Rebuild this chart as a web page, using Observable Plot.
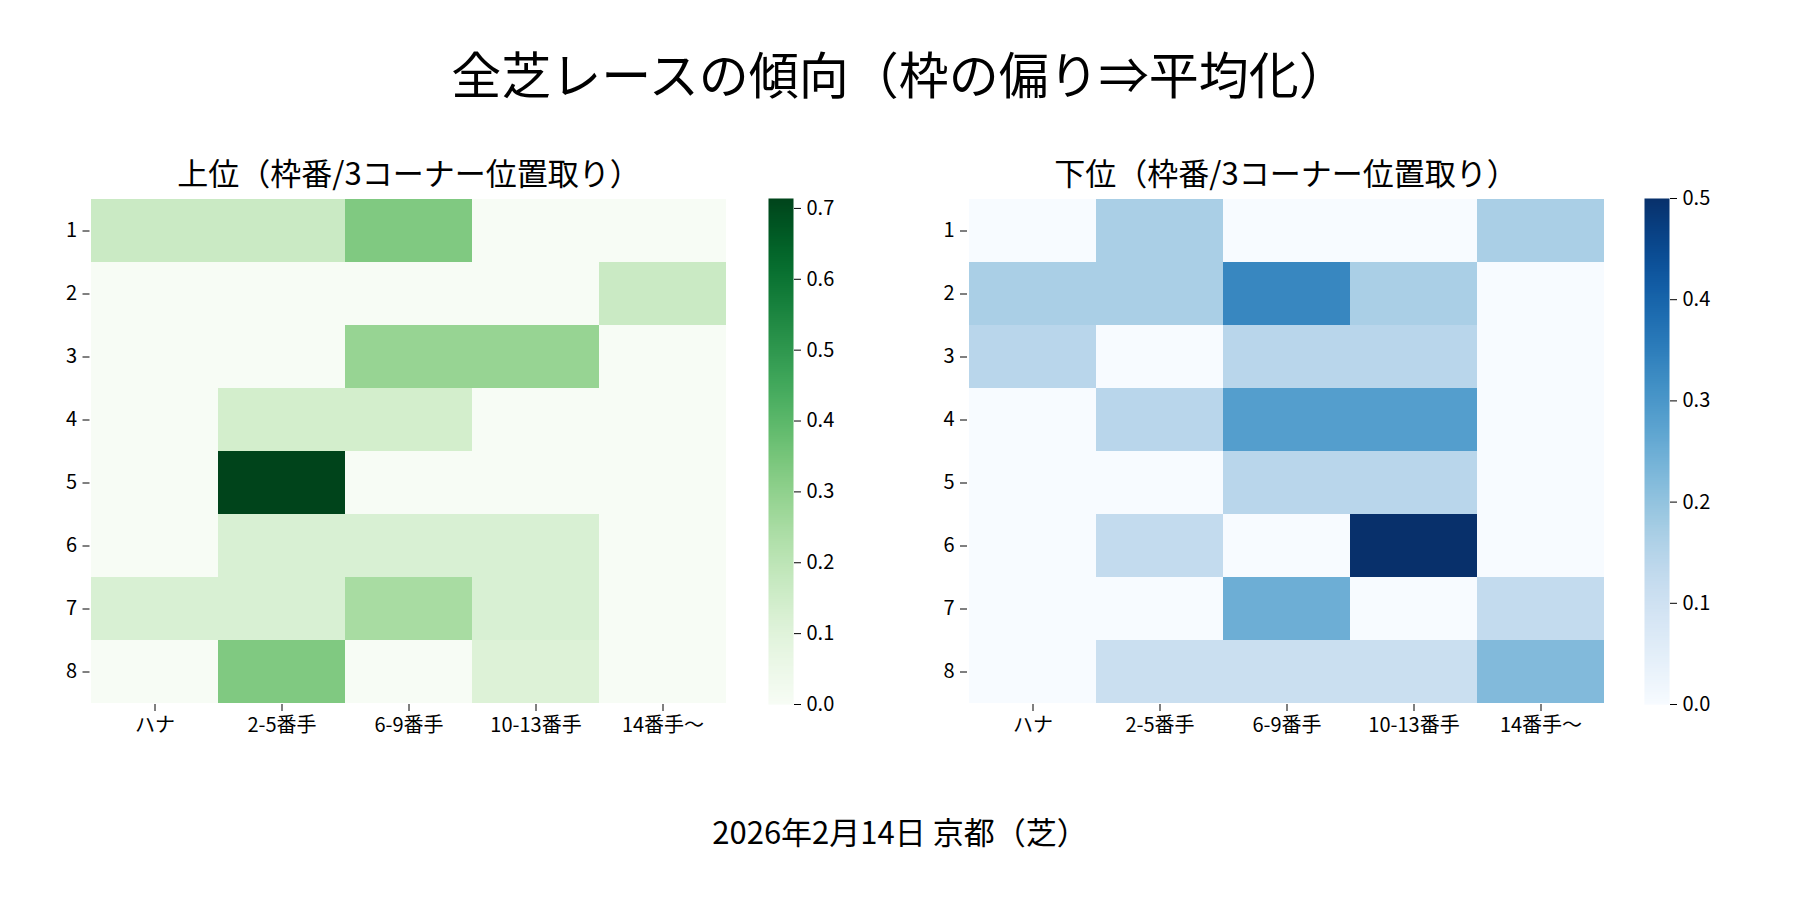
<!DOCTYPE html>
<html>
<head>
<meta charset="utf-8">
<script src="https://cdn.jsdelivr.net/npm/d3@7"></script>
<script src="https://cdn.jsdelivr.net/npm/@observablehq/plot@0.6"></script>
<style>
  html, body { margin: 0; padding: 0; background: #fff; }
  #root { position: relative; width: 1800px; height: 900px; background: #fff; font-family: "Noto Sans CJK JP", sans-serif; color: #000; }
  .txt { position: absolute; white-space: nowrap; text-align: center; transform: translateX(-50%); }
  .panel { position: absolute; }
  svg { overflow: visible; }
</style>
</head>
<body>
<div id="root"></div>
<script>
// ---- data ----
const mainTitle = "全芝レースの傾向（枠の偏り⇒平均化）";
const upperTitle = "上位（枠番/3コーナー位置取り）";
const lowerTitle = "下位（枠番/3コーナー位置取り）";
const caption = "2026年2月14日 京都（芝）";

const rows = ["1", "2", "3", "4", "5", "6", "7", "8"];
const cols = ["ハナ", "2-5番手", "6-9番手", "10-13番手", "14番手〜"];

// 上位 (rows = 枠番 1..8, cols = 3コーナー位置)
const upperValues = [
  [0.167, 0.167, 0.333, 0,     0    ],
  [0,     0,     0,     0,     0.167],
  [0,     0,     0.286, 0.286, 0    ],
  [0,     0.143, 0.143, 0,     0    ],
  [0,     0.714, 0,     0,     0    ],
  [0,     0.125, 0.125, 0.125, 0    ],
  [0.125, 0.125, 0.25,  0.125, 0    ],
  [0,     0.333, 0,     0.111, 0    ]
];

// 下位
const lowerValues = [
  [0,     0.167, 0,     0,     0.167],
  [0.167, 0.167, 0.333, 0.167, 0    ],
  [0.143, 0,     0.143, 0.143, 0    ],
  [0,     0.143, 0.286, 0.286, 0    ],
  [0,     0,     0.143, 0.143, 0    ],
  [0,     0.125, 0,     0.5,   0    ],
  [0,     0,     0.25,  0,     0.125],
  [0,     0.111, 0.111, 0.111, 0.222]
];

const upperTicks = [0, 0.1, 0.2, 0.3, 0.4, 0.5, 0.6, 0.7];
const lowerTicks = [0, 0.1, 0.2, 0.3, 0.4, 0.5];

// ---- build ----
const root = document.getElementById("root");
const font = "Noto Sans CJK JP";

function addText(str, cx, top, size) {
  const d = document.createElement("div");
  d.className = "txt";
  d.textContent = str;
  d.style.left = cx + "px";
  d.style.top = top + "px";
  d.style.fontSize = size + "px";
  d.style.lineHeight = (size + 6) + "px";
  root.appendChild(d);
}

function toCells(values) {
  return rows.flatMap((r, i) => cols.map((c, j) => ({row: r, col: c, value: values[i][j]})));
}

// frame spans y 198..704 in page coordinates
function heatmap(values, scheme, vmax, left, width, ml, mr) {
  const top = 194, mt = 4, h = 566, mb = 56;
  const svg = Plot.plot({
    width, height: h,
    marginLeft: ml, marginRight: mr, marginTop: mt, marginBottom: mb,
    style: {fontSize: "20px", fontFamily: font, color: "#000", background: "transparent"},
    x: {domain: cols, padding: 0, label: null, tickSize: 7, tickPadding: 6},
    y: {domain: rows, padding: 0, label: null, tickSize: 7, tickPadding: 6},
    color: {type: "linear", scheme, domain: [0, vmax]},
    marks: [
      Plot.cell(toCells(values), {x: "col", y: "row", fill: "value", inset: 0, shapeRendering: "crispEdges"})
    ]
  });
  const wrap = document.createElement("div");
  wrap.className = "panel";
  wrap.style.left = left + "px";
  wrap.style.top = top + "px";
  wrap.appendChild(svg);
  root.appendChild(wrap);
}

function colorbar(scheme, vmax, ticks, left) {
  const top = 174, mt = 24, h = 586, mb = 56;
  const svg = Plot.plot({
    width: 120, height: h,
    marginLeft: 8, marginRight: 87, marginTop: mt, marginBottom: mb,
    style: {fontSize: "20px", fontFamily: font, color: "#000", background: "transparent"},
    x: {domain: [0, 1], axis: null},
    y: {domain: [0, vmax], axis: "right", ticks, tickFormat: d3.format(".1f"), tickSize: 7, tickPadding: 6, label: null},
    color: {type: "linear", scheme, domain: [0, vmax]},
    marks: [
      Plot.raster({x1: 0, x2: 1, y1: 0, y2: vmax, width: 1, height: 256, fill: (x, y) => y})
    ]
  });
  const wrap = document.createElement("div");
  wrap.className = "panel";
  wrap.style.left = left + "px";
  wrap.style.top = top + "px";
  wrap.appendChild(svg);
  root.appendChild(wrap);
}

const upperMax = d3.max(upperValues.flat());
const lowerMax = d3.max(lowerValues.flat());

heatmap(upperValues, "greens", upperMax, 0, 740, 89.5, 12);
colorbar("greens", upperMax, upperTicks, 760);
heatmap(lowerValues, "blues", lowerMax, 880, 740, 87, 15);
colorbar("blues", lowerMax, lowerTicks, 1636);

addText(mainTitle, 900, 44, 50);
addText(upperTitle, 409, 153, 31);
addText(lowerTitle, 1286, 153, 31);
addText(caption, 900, 812, 31);
</script>
</body>
</html>
